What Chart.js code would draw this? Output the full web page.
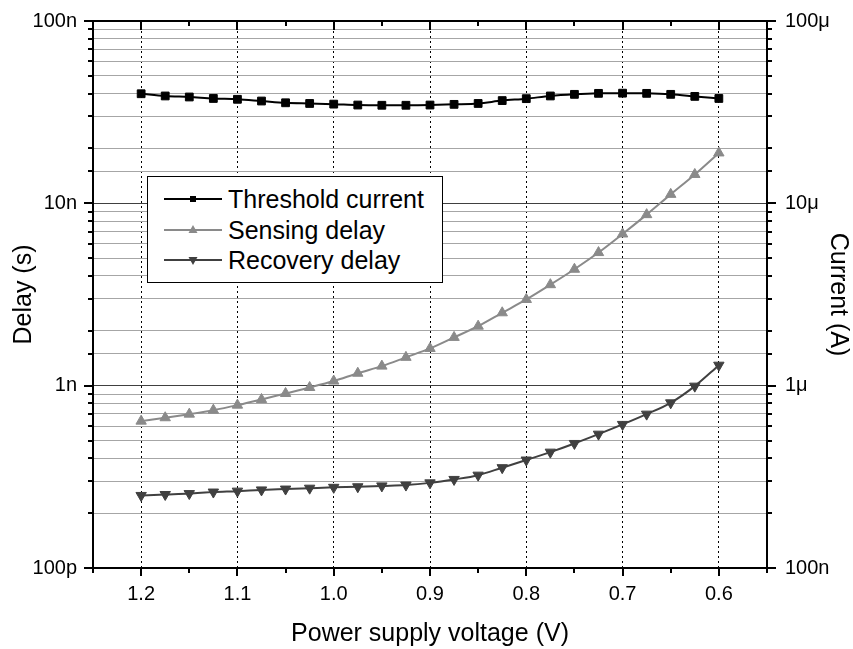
<!DOCTYPE html>
<html><head><meta charset="utf-8">
<script src="https://cdn.jsdelivr.net/npm/chart.js@4.4.0/dist/chart.umd.min.js"></script>
<style>
html,body{margin:0;padding:0;background:#fff;}
#wrap{position:relative;width:853px;height:649px;}
#legend{position:absolute;left:147px;top:176px;width:294px;height:105px;border:1px solid #000;background:#fff;font-family:"Liberation Sans",Arial,sans-serif;font-size:25px;color:#000;}
.row{position:absolute;left:0;height:30px;line-height:30px;white-space:nowrap;}
.row svg{position:absolute;left:15px;top:5px;}
.row span{position:absolute;left:80px;top:0;}
</style></head>
<body>
<div id="wrap">
<canvas id="c" width="853" height="649"></canvas>
<div id="legend"></div>
</div>
<script>
const voltages = [1.2,1.175,1.15,1.125,1.1,1.075,1.05,1.025,1.0,0.975,0.95,0.925,0.9,0.875,0.85,0.825,0.8,0.775,0.75,0.725,0.7,0.675,0.65,0.625,0.6];
const thresholdCurrent_uA = [39.9,38.8,38.3,37.6,37.2,36.4,35.6,35.3,35.0,34.6,34.5,34.5,34.6,34.9,35.3,36.6,37.5,38.8,39.6,40.1,40.2,40.1,39.6,38.6,37.6];
const sensingDelay_ns = [0.639,0.667,0.698,0.734,0.782,0.840,0.906,0.977,1.06,1.17,1.28,1.43,1.60,1.84,2.12,2.51,2.97,3.58,4.35,5.37,6.79,8.67,11.2,14.4,18.9];
const recoveryDelay_ns = [0.250,0.253,0.256,0.261,0.264,0.268,0.271,0.274,0.277,0.279,0.282,0.285,0.293,0.306,0.323,0.355,0.391,0.432,0.482,0.542,0.613,0.698,0.805,0.994,1.295];
const seriesNames = ['Threshold current','Sensing delay','Recovery delay'];
const xTickLabels = ['1.2','1.1','1.0','0.9','0.8','0.7','0.6'];
const delayTickLabels = ['100p','1n','10n','100n'];
const currentTickLabels = ['100n','1\u03bc','10\u03bc','100\u03bc'];

const FONT = '"Liberation Sans", Arial, sans-serif';
const colors = ['#000000','#8a8a8a','#404040'];

function pts(arr){ return voltages.map((v,i)=>({x:v,y:arr[i]})); }
function isMajorLog(v){ const l=Math.log10(v); return Math.abs(l-Math.round(l))<1e-6; }
function isMajorX(v){ return Math.round(v*20)%2===0; }

const frameTicks = {
  id:'frameTicks',
  afterDraw(chart){
    const {ctx, chartArea:a, scales} = chart;
    ctx.save();
    ctx.strokeStyle='#000'; ctx.lineWidth=2; ctx.setLineDash([]);
    const seg=(x1,y1,x2,y2)=>{ctx.beginPath();ctx.moveTo(x1,y1);ctx.lineTo(x2,y2);ctx.stroke();};
    scales.x.ticks.forEach(t=>{
      const px = Math.round(scales.x.getPixelForValue(t.value));
      const mj = isMajorX(t.value);
      seg(px,a.bottom,px,a.bottom+(mj?8:5));
      seg(px,a.top,px,a.top+(mj?9:5));
    });
    scales.y.ticks.forEach(t=>{
      const py = Math.round(scales.y.getPixelForValue(t.value));
      seg(a.left,py,a.left-(isMajorLog(t.value)?9:5),py);
    });
    scales.y2.ticks.forEach(t=>{
      const py = Math.round(scales.y2.getPixelForValue(t.value));
      seg(a.right,py,a.right+(isMajorLog(t.value)?9:5),py);
    });
    ctx.strokeRect(a.left,a.top,a.right-a.left,a.bottom-a.top);
    ctx.restore();
  }
};

function fitV(w){ return (s)=>{ s.width=w; s.paddingTop=0; s.paddingBottom=0; }; }

const chart = new Chart(document.getElementById('c'), {
  type:'line',
  data:{
    datasets:[
      {label:seriesNames[0], data:pts(thresholdCurrent_uA), yAxisID:'y2', borderColor:colors[0], backgroundColor:colors[0], pointStyle:'rect', pointRadius:5.5, pointBorderWidth:1, borderWidth:2, cubicInterpolationMode:'monotone'},
      {label:seriesNames[1], data:pts(sensingDelay_ns), yAxisID:'y', borderColor:colors[1], backgroundColor:colors[1], pointStyle:'triangle', pointRadius:6, pointBorderWidth:1, borderWidth:2, cubicInterpolationMode:'monotone'},
      {label:seriesNames[2], data:pts(recoveryDelay_ns), yAxisID:'y', borderColor:colors[2], backgroundColor:colors[2], pointStyle:'triangle', pointRotation:180, pointRadius:6, pointBorderWidth:1, borderWidth:2, cubicInterpolationMode:'monotone'}
    ]
  },
  options:{
    responsive:false, animation:false,
    layout:{padding:{top:21,left:0,right:0,bottom:0}},
    plugins:{legend:{display:false}, tooltip:{enabled:false}},
    scales:{
      x:{
        type:'linear', min:0.55, max:1.25, reverse:true, position:'bottom',
        afterFit(s){ s.height=81; s.paddingLeft=0; s.paddingRight=0; },
        border:{display:false, dash:[2,3]},
        grid:{drawTicks:false, lineWidth:1, color:(c)=> (c.tick && isMajorX(c.tick.value)) ? '#000' : 'rgba(0,0,0,0)'},
        ticks:{stepSize:0.05, autoSkip:false, maxRotation:0, padding:14, color:'#000', font:{family:FONT,size:20},
          callback:(v)=>{ if(!isMajorX(v)) return ''; const i=Math.round((1.2-v)*10); return (i>=0&&i<xTickLabels.length)?xTickLabels[i]:''; }},
        title:{display:true, text:'Power supply voltage (V)', color:'#000', font:{family:FONT,size:25}, padding:{top:0,bottom:0}}
      },
      y:{
        type:'logarithmic', min:0.1, max:100, position:'left',
        afterFit:fitV(93),
        border:{display:false},
        grid:{drawTicks:false, lineWidth:1, color:(c)=> (c.tick && isMajorLog(c.tick.value)) ? '#404040' : '#a6a6a6'},
        ticks:{autoSkip:false, padding:16, color:'#000', font:{family:FONT,size:20},
          callback:(v)=>{ if(!isMajorLog(v)) return ''; return delayTickLabels[Math.round(Math.log10(v))+1]; }},
        title:{display:true, text:'Delay (s)', color:'#000', font:{family:FONT,size:25}, padding:{top:9,bottom:0}}
      },
      y2:{
        type:'logarithmic', min:0.1, max:100, position:'right',
        afterFit:fitV(86),
        border:{display:false},
        grid:{drawTicks:false, drawOnChartArea:false},
        ticks:{autoSkip:false, padding:18, color:'#000', font:{family:FONT,size:20},
          callback:(v)=>{ if(!isMajorLog(v)) return ''; return currentTickLabels[Math.round(Math.log10(v))+1]; }},
        title:{display:true, text:'Current (A)', color:'#000', font:{family:FONT,size:25}, padding:{top:0,bottom:0}}
      }
    }
  },
  plugins:[frameTicks]
});

// HTML legend
const markers = [
  '<rect x="27" y="7" width="6" height="6" fill="#000"/>',
  '<polygon points="30,5 34.5,13 25.5,13" fill="'+colors[1]+'"/>',
  '<polygon points="30,15 34.5,7 25.5,7" fill="'+colors[2]+'"/>'
];
const rowTops=[7,38,68];
const lg=document.getElementById('legend');
seriesNames.forEach((n,i)=>{
  const r=document.createElement('div'); r.className='row'; r.style.top=rowTops[i]+'px';
  r.innerHTML='<svg width="60" height="20"><line x1="1" y1="10" x2="59" y2="10" stroke="'+colors[i]+'" stroke-width="2"/>'+markers[i]+'</svg><span>'+n+'</span>';
  lg.appendChild(r);
});
</script>
</body></html>
